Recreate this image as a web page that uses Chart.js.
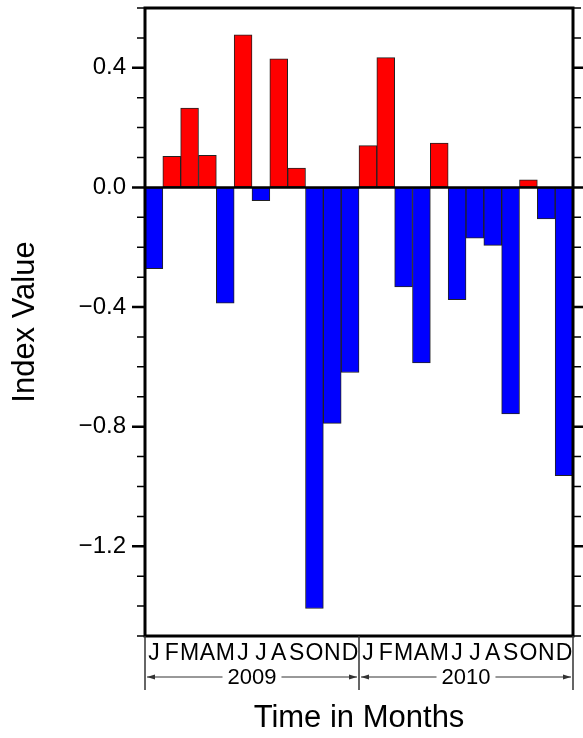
<!DOCTYPE html>
<html lang="en">
<head>
  <meta charset="UTF-8" />
  <title>Index Value 2009-2010</title>
  <script src="https://cdn.jsdelivr.net/npm/chart.js"></script>
  <style>
    body {
      margin: 0;
      padding: 0;
      background-color: white;
    }
    canvas {
      display: block;
    }
  </style>
</head>
<body>
  <canvas id="indexChart" width="583" height="738"></canvas>

  <script>
    const monthLabels = ['J', 'F', 'M', 'A', 'M', 'J', 'J', 'A', 'S', 'O', 'N', 'D'];
    const years = ['2009', '2010'];
    const values2009 = [-0.272, 0.104, 0.265, 0.107, -0.387, 0.51, -0.044, 0.43, 0.065, -1.408, -0.789, -0.619];
    const values2010 = [0.14, 0.434, -0.333, -0.587, 0.148, -0.375, -0.17, -0.194, -0.757, 0.025, -0.105, -0.964];
    const yTickLabels = { '4': '0.4', '0': '0.0', '-4': '\u22120.4', '-8': '\u22120.8', '-12': '\u22121.2' };

    const labels = years.flatMap(() => monthLabels);
    const values = values2009.concat(values2010);
    const font = "'Liberation Sans', Arial, sans-serif";

    // frame, ticks on both sides, zero line and the year brackets under the months
    const decorations = {
      id: 'decorations',
      afterDatasetsDraw(chart) {
        const { ctx, chartArea: a, scales: { y } } = chart;
        ctx.save();
        ctx.strokeStyle = '#000';
        ctx.lineWidth = 2.5;
        const y0 = y.getPixelForValue(0);
        ctx.beginPath();
        ctx.moveTo(a.left, y0);
        ctx.lineTo(a.right, y0);
        ctx.stroke();
        ctx.restore();
      },
      afterDraw(chart) {
        const { ctx, chartArea: a, scales: { x, y } } = chart;
        ctx.save();
        ctx.strokeStyle = '#000';

        y.ticks.forEach(t => {
          const major = Math.round(t.value * 10) % 4 === 0;
          const py = y.getPixelForValue(t.value);
          const len = major ? 13 : 8;
          ctx.lineWidth = major ? 2.5 : 1.5;
          ctx.beginPath();
          ctx.moveTo(a.left - len, py);
          ctx.lineTo(a.left, py);
          ctx.moveTo(a.right, py);
          ctx.lineTo(a.right + len, py);
          ctx.stroke();
        });

        ctx.lineWidth = 3;
        ctx.strokeRect(a.left, a.top, a.right - a.left, a.bottom - a.top);

        // year brackets
        const bw = (a.right - a.left) / labels.length;
        const rowY = a.bottom + 41;
        ctx.strokeStyle = '#333';
        ctx.font = '22px ' + font;
        ctx.textAlign = 'center';
        ctx.textBaseline = 'middle';
        years.forEach((yr, k) => {
          const x1 = x.getPixelForValue(k * 12) - bw / 2;
          const x2 = x.getPixelForValue(k * 12 + 11) + bw / 2;
          const cx = (x1 + x2) / 2;
          const tw = ctx.measureText(yr).width;
          ctx.fillStyle = '#000';
          ctx.fillText(yr, cx, rowY + 1);
          ctx.fillStyle = '#333';
          ctx.lineWidth = 1;
          ctx.beginPath();
          ctx.moveTo(x1 + 2, rowY);
          ctx.lineTo(cx - tw / 2 - 5, rowY);
          ctx.moveTo(cx + tw / 2 + 5, rowY);
          ctx.lineTo(x2 - 2, rowY);
          ctx.stroke();
          [[x1 + 2, 1], [x2 - 2, -1]].forEach(([px, d]) => {
            ctx.beginPath();
            ctx.moveTo(px, rowY);
            ctx.lineTo(px + d * 8, rowY - 2.5);
            ctx.lineTo(px + d * 8, rowY + 2.5);
            ctx.closePath();
            ctx.fill();
          });
          ctx.lineWidth = 1.5;
          ctx.beginPath();
          ctx.moveTo(x1, a.bottom);
          ctx.lineTo(x1, a.bottom + 54);
          if (k === years.length - 1) {
            ctx.moveTo(x2, a.bottom);
            ctx.lineTo(x2, a.bottom + 54);
          }
          ctx.stroke();
        });
        ctx.restore();
      }
    };

    const ctx = document.getElementById('indexChart').getContext('2d');
    const chart = new Chart(ctx, {
      type: 'bar',
      data: {
        labels: labels,
        datasets: [{
          data: values,
          backgroundColor: c => c.raw >= 0 ? '#ff0000' : '#0000ff',
          borderColor: '#222',
          borderWidth: 1,
          borderSkipped: false,
          barPercentage: 1,
          categoryPercentage: 1
        }]
      },
      options: {
        responsive: false,
        animation: false,
        layout: { padding: { top: 8, right: 10, bottom: 0, left: 0 } },
        plugins: {
          legend: { display: false },
          tooltip: { enabled: false }
        },
        scales: {
          x: {
            grid: { display: false, drawTicks: false },
            border: { display: false },
            ticks: {
              color: '#000',
              font: { family: font, size: 23 },
              padding: 4,
              maxRotation: 0,
              autoSkip: false
            },
            title: {
              display: true,
              text: 'Time in Months',
              color: '#000',
              font: { family: font, size: 31 },
              padding: { top: 0, bottom: 1 }
            },
            afterFit: s => {
              s.height = 102;
              s.paddingLeft = 0;
              s.paddingRight = 0;
            }
          },
          y: {
            min: -1.5,
            max: 0.6,
            grid: { drawOnChartArea: false, tickLength: 13, tickColor: 'transparent' },
            border: { display: false },
            ticks: {
              stepSize: 0.1,
              color: '#000',
              font: { family: font, size: 24 },
              padding: 6,
              autoSkip: false,
              callback: v => yTickLabels[String(Math.round(v * 10))] || ''
            },
            title: {
              display: true,
              text: 'Index Value',
              color: '#000',
              font: { family: font, size: 31 },
              padding: { top: 7, bottom: 0 }
            },
            afterFit: s => {
              s.width = 145;
              s.paddingTop = 0;
              s.paddingBottom = 0;
            }
          }
        }
      },
      plugins: [decorations]
    });
  </script>
</body>
</html>
